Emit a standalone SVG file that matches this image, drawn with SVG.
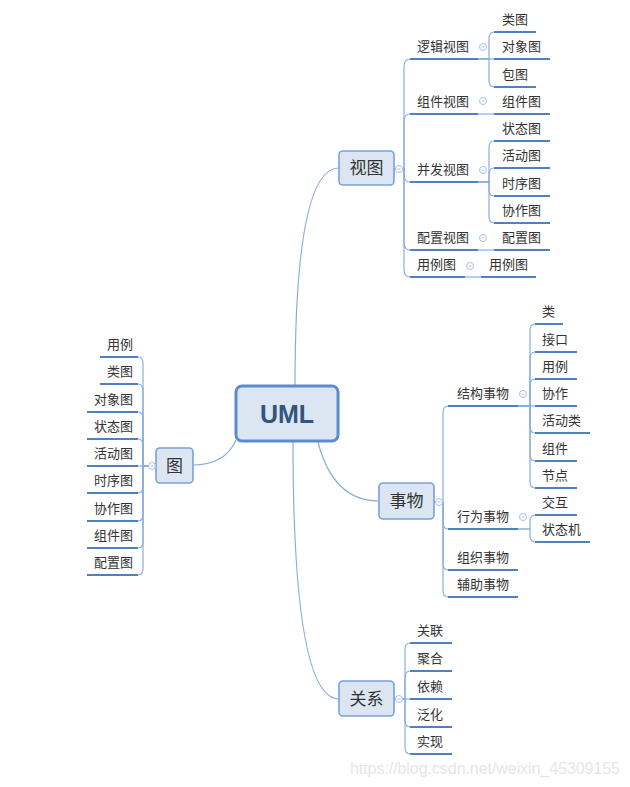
<svg xmlns="http://www.w3.org/2000/svg" width="630" height="787" viewBox="0 0 630 787">
<style>
.bg{fill:#ffffff}
.main{fill:none;stroke:#8aaedc;stroke-width:1.2}
.br{fill:none;stroke:#8aaedc;stroke-width:1.2}
.ul{fill:none;stroke:#4f81c0;stroke-width:2}
.node{fill:#dce6f2;stroke:#7ba1d6;stroke-width:1.6}
.root{fill:#dce6f2;stroke:#5b8ccf;stroke-width:3}
.lbl{font-family:"Noto Sans CJK SC","Noto Sans",sans-serif;font-size:13px;fill:#333333}
.ntx{font-family:"Noto Sans CJK SC","Noto Sans",sans-serif;font-size:17px;fill:#333333;text-anchor:middle}
.end{text-anchor:end}
.tog{fill:#ffffff;stroke:#a9c0e2;stroke-width:1}
.tm{stroke:#a9c0e2;stroke-width:1}
</style>
<rect class="bg" x="0" y="0" width="630" height="787"/>
<g id="connectors">
<path class="main" d="M295,386 Q295,168 339,168"/>
<path class="main" d="M293,442 Q293,699 339,699"/>
<path class="main" d="M318,442 Q333,501 379,501"/>
<path class="main" d="M236,440 Q225,465 193,465"/>
<path class="br" d="M394,169 H404 V67 Q404,59 410,59"/>
<path class="br" d="M394,169 H404 V122 Q404,114 410,114"/>
<path class="br" d="M394,169 H404 V174 Q404,182 410,182"/>
<path class="br" d="M394,169 H404 V242 Q404,250 410,250"/>
<path class="br" d="M394,169 H404 V269 Q404,277 410,277"/>
<path class="br" d="M478,59 H489 V39 Q489,32 494,32"/>
<path class="br" d="M478,59 H494"/>
<path class="br" d="M478,59 H489 V80 Q489,87 494,87"/>
<path class="br" d="M478,114 H494"/>
<path class="br" d="M478,182 H489 V148 Q489,141 494,141"/>
<path class="br" d="M478,182 H489 V175 Q489,168 494,168"/>
<path class="br" d="M478,182 H489 V189 Q489,196 494,196"/>
<path class="br" d="M478,182 H489 V216 Q489,223 494,223"/>
<path class="br" d="M478,250 H494"/>
<path class="br" d="M465,277 H481"/>
<path class="br" d="M434,502 H443 V413 Q443,406 448,406"/>
<path class="br" d="M434,502 H443 V522 Q443,529 448,529"/>
<path class="br" d="M434,502 H443 V563 Q443,570 448,570"/>
<path class="br" d="M434,502 H443 V590 Q443,597 448,597"/>
<path class="br" d="M518,406 H530 V331 Q530,324 535,324"/>
<path class="br" d="M518,406 H530 V359 Q530,352 535,352"/>
<path class="br" d="M518,406 H530 V386 Q530,379 535,379"/>
<path class="br" d="M518,406 H535"/>
<path class="br" d="M518,406 H530 V426 Q530,433 535,433"/>
<path class="br" d="M518,406 H530 V454 Q530,461 535,461"/>
<path class="br" d="M518,406 H530 V481 Q530,488 535,488"/>
<path class="br" d="M518,529 H530 V522 Q530,515 535,515"/>
<path class="br" d="M518,529 H530 V535 Q530,542 535,542"/>
<path class="br" d="M394,699 H405 V650 Q405,643 410,643"/>
<path class="br" d="M394,699 H405 V678 Q405,671 410,671"/>
<path class="br" d="M394,699 H410"/>
<path class="br" d="M394,699 H405 V720 Q405,727 410,727"/>
<path class="br" d="M394,699 H405 V747 Q405,754 410,754"/>
<path class="br" d="M156,466 H143 V364 Q143,357 138,357"/>
<path class="br" d="M156,466 H143 V391 Q143,384 138,384"/>
<path class="br" d="M156,466 H143 V419 Q143,412 138,412"/>
<path class="br" d="M156,466 H143 V446 Q143,439 138,439"/>
<path class="br" d="M156,466 H138"/>
<path class="br" d="M156,466 H143 V486 Q143,493 138,493"/>
<path class="br" d="M156,466 H143 V514 Q143,521 138,521"/>
<path class="br" d="M156,466 H143 V541 Q143,548 138,548"/>
<path class="br" d="M156,466 H143 V568 Q143,575 138,575"/>
</g>

<g id="node-uml">
<rect class="root" x="236" y="386" width="102" height="55" rx="6"/>
<text x="287" y="423" text-anchor="middle" font-family="Liberation Sans, Arial, sans-serif" font-weight="bold" font-size="25" fill="#34547f">UML</text>
</g>

<g id="node-shitu">
<rect class="node" x="339" y="151" width="55" height="34" rx="4"/>
<text class="ntx" x="366.5" y="174">视图</text>
<circle class="tog" cx="399" cy="169" r="3.5"/><line class="tm" x1="397.5" y1="169" x2="400.5" y2="169"/>
</g>
<g id="node-luoji">
<path class="ul" d="M410,59 H478"/><text class="lbl" x="417" y="51">逻辑视图</text>
<circle class="tog" cx="483" cy="47" r="3.5"/><line class="tm" x1="481.5" y1="47" x2="484.5" y2="47"/>
</g>
<g id="node-leitu"><path class="ul" d="M494,32 H536"/><text class="lbl" x="502" y="24">类图</text></g>
<g id="node-duixiangtu"><path class="ul" d="M494,59 H550"/><text class="lbl" x="502" y="51">对象图</text></g>
<g id="node-baotu"><path class="ul" d="M494,87 H536"/><text class="lbl" x="502" y="79">包图</text></g>
<g id="node-zujianshitu">
<path class="ul" d="M410,114 H478"/><text class="lbl" x="417" y="106">组件视图</text>
<circle class="tog" cx="483" cy="101" r="3.5"/><line class="tm" x1="481.5" y1="101" x2="484.5" y2="101"/>
</g>
<g id="node-zujiantu1"><path class="ul" d="M494,114 H550"/><text class="lbl" x="502" y="106">组件图</text></g>
<g id="node-bingfa">
<path class="ul" d="M410,182 H478"/><text class="lbl" x="417" y="174">并发视图</text>
<circle class="tog" cx="483" cy="170" r="3.5"/><line class="tm" x1="481.5" y1="170" x2="484.5" y2="170"/>
</g>
<g id="node-zhuangtaitu1"><path class="ul" d="M494,141 H550"/><text class="lbl" x="502" y="133">状态图</text></g>
<g id="node-huodongtu1"><path class="ul" d="M494,168 H550"/><text class="lbl" x="502" y="160">活动图</text></g>
<g id="node-shixutu1"><path class="ul" d="M494,196 H550"/><text class="lbl" x="502" y="188">时序图</text></g>
<g id="node-xiezuotu1"><path class="ul" d="M494,223 H550"/><text class="lbl" x="502" y="215">协作图</text></g>
<g id="node-peizhishitu">
<path class="ul" d="M410,250 H478"/><text class="lbl" x="417" y="242">配置视图</text>
<circle class="tog" cx="483" cy="238" r="3.5"/><line class="tm" x1="481.5" y1="238" x2="484.5" y2="238"/>
</g>
<g id="node-peizhitu1"><path class="ul" d="M494,250 H550"/><text class="lbl" x="502" y="242">配置图</text></g>
<g id="node-yonglitu-v">
<path class="ul" d="M410,277 H465"/><text class="lbl" x="417" y="269">用例图</text>
<circle class="tog" cx="470" cy="266" r="3.5"/><line class="tm" x1="468.5" y1="266" x2="471.5" y2="266"/>
</g>
<g id="node-yonglitu-c"><path class="ul" d="M481,277 H536"/><text class="lbl" x="489" y="269">用例图</text></g>

<g id="node-tu">
<rect class="node" x="156" y="448" width="37" height="35" rx="4"/>
<text class="ntx" x="174.5" y="472">图</text>
<circle class="tog" cx="152" cy="466" r="3.5"/><line class="tm" x1="150.5" y1="466" x2="153.5" y2="466"/>
</g>
<g id="node-t-yongli"><path class="ul" d="M100,357 H138"/><text class="lbl end" x="133" y="349">用例</text></g>
<g id="node-t-leitu"><path class="ul" d="M100,384 H138"/><text class="lbl end" x="133" y="376">类图</text></g>
<g id="node-t-duixiangtu"><path class="ul" d="M87,412 H138"/><text class="lbl end" x="133" y="404">对象图</text></g>
<g id="node-t-zhuangtaitu"><path class="ul" d="M87,439 H138"/><text class="lbl end" x="133" y="431">状态图</text></g>
<g id="node-t-huodongtu"><path class="ul" d="M87,466 H138"/><text class="lbl end" x="133" y="458">活动图</text></g>
<g id="node-t-shixutu"><path class="ul" d="M87,493 H138"/><text class="lbl end" x="133" y="485">时序图</text></g>
<g id="node-t-xiezuotu"><path class="ul" d="M87,521 H138"/><text class="lbl end" x="133" y="513">协作图</text></g>
<g id="node-t-zujiantu"><path class="ul" d="M87,548 H138"/><text class="lbl end" x="133" y="540">组件图</text></g>
<g id="node-t-peizhitu"><path class="ul" d="M87,575 H138"/><text class="lbl end" x="133" y="567">配置图</text></g>

<g id="node-shiwu">
<rect class="node" x="379" y="483" width="55" height="36" rx="4"/>
<text class="ntx" x="406.5" y="507">事物</text>
<circle class="tog" cx="439" cy="502" r="3.5"/><line class="tm" x1="437.5" y1="502" x2="440.5" y2="502"/>
</g>
<g id="node-jiegou">
<path class="ul" d="M448,406 H518"/><text class="lbl" x="457" y="398">结构事物</text>
<circle class="tog" cx="523" cy="394" r="3.5"/><line class="tm" x1="521.5" y1="394" x2="524.5" y2="394"/>
</g>
<g id="node-s-lei"><path class="ul" d="M535,324 H563"/><text class="lbl" x="542" y="316">类</text></g>
<g id="node-s-jiekou"><path class="ul" d="M535,352 H577"/><text class="lbl" x="542" y="344">接口</text></g>
<g id="node-s-yongli"><path class="ul" d="M535,379 H577"/><text class="lbl" x="542" y="371">用例</text></g>
<g id="node-s-xiezuo"><path class="ul" d="M535,406 H577"/><text class="lbl" x="542" y="398">协作</text></g>
<g id="node-s-huodonglei"><path class="ul" d="M535,433 H590"/><text class="lbl" x="542" y="425">活动类</text></g>
<g id="node-s-zujian"><path class="ul" d="M535,461 H577"/><text class="lbl" x="542" y="453">组件</text></g>
<g id="node-s-jiedian"><path class="ul" d="M535,488 H577"/><text class="lbl" x="542" y="480">节点</text></g>
<g id="node-xingwei">
<path class="ul" d="M448,529 H518"/><text class="lbl" x="457" y="521">行为事物</text>
<circle class="tog" cx="523" cy="517" r="3.5"/><line class="tm" x1="521.5" y1="517" x2="524.5" y2="517"/>
</g>
<g id="node-b-jiaohu"><path class="ul" d="M535,515 H577"/><text class="lbl" x="542" y="507">交互</text></g>
<g id="node-b-zhuangtaiji"><path class="ul" d="M535,542 H590"/><text class="lbl" x="542" y="534">状态机</text></g>
<g id="node-zuzhi"><path class="ul" d="M448,570 H518"/><text class="lbl" x="457" y="562">组织事物</text></g>
<g id="node-fuzhu"><path class="ul" d="M448,597 H518"/><text class="lbl" x="457" y="589">辅助事物</text></g>

<g id="node-guanxi">
<rect class="node" x="339" y="681" width="55" height="35" rx="4"/>
<text class="ntx" x="366.5" y="705">关系</text>
<circle class="tog" cx="399" cy="699" r="3.5"/><line class="tm" x1="397.5" y1="699" x2="400.5" y2="699"/>
</g>
<g id="node-r-guanlian"><path class="ul" d="M410,643 H452"/><text class="lbl" x="417" y="635">关联</text></g>
<g id="node-r-juhe"><path class="ul" d="M410,671 H452"/><text class="lbl" x="417" y="663">聚合</text></g>
<g id="node-r-yilai"><path class="ul" d="M410,699 H452"/><text class="lbl" x="417" y="691">依赖</text></g>
<g id="node-r-fanhua"><path class="ul" d="M410,727 H452"/><text class="lbl" x="417" y="719">泛化</text></g>
<g id="node-r-shixian"><path class="ul" d="M410,754 H452"/><text class="lbl" x="417" y="746">实现</text></g>

<text x="350" y="774" font-family="Liberation Sans, Arial, sans-serif" font-size="16" fill="#e6e6e6" textLength="270">https://blog.csdn.net/weixin_45309155</text>
</svg>
